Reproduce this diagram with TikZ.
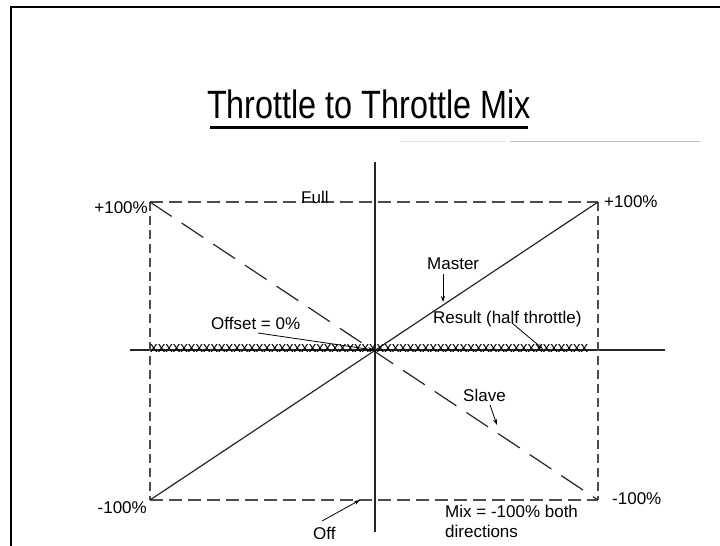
\documentclass[tikz,border=0pt]{standalone}
\usepackage{fontspec}
\setmainfont{Liberation Sans}
\usetikzlibrary{arrows.meta}
\begin{document}
\begin{tikzpicture}[x=1pt,y=-1pt,
  lbl/.style={font=\fontsize{17}{20}\selectfont, inner sep=0pt, anchor=base west},
  frameline/.style={draw=black, line width=2.6pt},
  axis/.style={draw=black!85, line width=1.6pt},
  boxdash/.style={draw=black!70, line width=1.3pt, dash pattern=on 13pt off 6pt},
  sidedash/.style={draw=black!70, line width=1.3pt, dash pattern=on 9pt off 5pt},
  mastercurve/.style={draw=black!85, line width=1.2pt},
  slavecurve/.style={draw=black!85, line width=1.2pt, dash pattern=on 26pt off 12pt},
  pointer/.style={draw=black, line width=0.8pt, -{Stealth[length=6pt,width=4pt]}}]
\useasboundingbox (0,0) rectangle (720,546);
\fill[white] (0,0) rectangle (720,546);

% slide frame
\draw[frameline] (11,560) -- (11,7) -- (730,7);

% title
\node[inner sep=0pt, anchor=base] (title) at (369,118)
  {\scalebox{0.82}[1]{\fontsize{39.5}{44}\selectfont Throttle to Throttle Mix}};
\draw[black, line width=2.4pt] (210,127.5) -- (528,127.5);
\draw[black!25, line width=1pt] (510,141) -- (700,141);
\draw[black!12, line width=1pt] (400,141) -- (505,141);

% key points
\coordinate (O) at (374,350);
\coordinate (TL) at (150,202);
\coordinate (TR) at (598,202);
\coordinate (BL) at (150,500);
\coordinate (BR) at (598,500);

% axes
\draw[axis] (375,162) -- (375,532);
\draw[axis, line width=1.2pt] (130,350) -- (665,350);

% dashed limits
\draw[boxdash] (TL) -- (TR);
\draw[boxdash] (BL) -- (BR);
\draw[sidedash] (TL) -- (BL);
\draw[sidedash] (TR) -- (BR);

% master and slave
\draw[mastercurve] (BL) -- (TR);
\draw[slavecurve] (TL) -- (BR);

% result row
\node[inner sep=0pt, anchor=west, font=\fontsize{15.1}{16}\selectfont] (result row) at (150,349)
  {xxxxxxxxxxxxxxxxxxxxxxxxxxxxxxxxxxxxxxxxxxxxxxxxxxxxxxxxxx};

% limit labels
\node[lbl, anchor=base east] (lp) at (148,213) {+100\%};
\node[lbl] (rp) at (604,207) {+100\%};
\node[lbl, anchor=base east] (lm) at (147,513) {-100\%};
\node[lbl] (rm) at (612,504) {-100\%};

% annotations
\node[lbl] (full) at (301,203) {Full};
\node[lbl] (master) at (427,269) {Master};
\node[lbl] (offset) at (211,329) {Offset = 0\%};
\node[lbl] (result) at (433,323) {Result (half throttle)};
\node[lbl] (slave) at (463,401) {Slave};
\node[lbl] (off) at (313,539) {Off};
\node[lbl, align=left, anchor=north west] (mix) at (445,505)
  {Mix = -100\% both\\directions};

\coordinate (masterpt) at (443,302);
\coordinate (resultpt) at (543,349);
\coordinate (slavept) at (497,425);
\coordinate (offpt) at (360,500);
\draw[pointer] (master.south -| masterpt) ++(0,5) -- (masterpt);
\draw[pointer] (258,333) -- (O);
\draw[pointer] (512,323) -- (resultpt);
\draw[pointer] (490,405) -- (slavept);
\draw[pointer] (322,521) -- (offpt);
\end{tikzpicture}
\end{document}
